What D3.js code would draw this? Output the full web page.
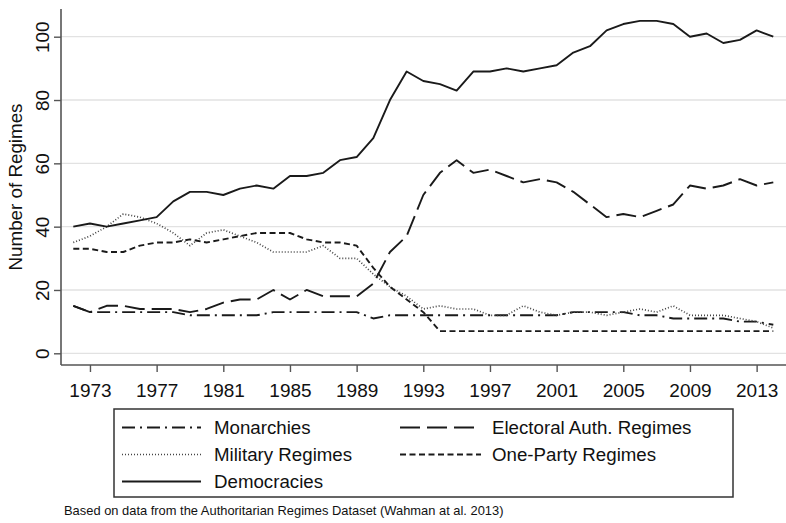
<!DOCTYPE html>
<html>
<head>
<meta charset="utf-8">
<script src="https://cdn.jsdelivr.net/npm/d3@7"></script>
<style>
  html, body { margin: 0; padding: 0; background: #fff; }
  svg { display: block; }
  text { font-family: "Liberation Sans", Arial, Helvetica, sans-serif; fill: #111; }
</style>
</head>
<body>
<svg id="chart" width="786" height="523"></svg>
<script>
// Regime counts per year, 1972–2014
const years = d3.range(1972, 2015);

const democracies = [40,41,40,41,42,43,48,51,51,50,
                     52,53,52,56,56,57,61,62,68,80,
                     89,86,85,83,89,89,90,89,90,91,
                     95,97,102,104,105,105,104,100,101,98,
                     99,102,100];
const electoralAuth = [15,13,15,15,14,14,14,13,14,16,
                       17,17,20,17,20,18,18,18,22,32,
                       37,50,57,61,57,58,56,54,55,54,
                       51,47,43,44,43,45,47,53,52,53,
                       55,53,54];
const military = [35,37,40,44,43,41,38,34,38,39,
                  37,35,32,32,32,34,30,30,25,21,
                  18,14,15,14,14,12,12,15,13,12,
                  13,13,12,13,14,13,15,12,12,12,
                  11,10,8];
const monarchies = [15,13,13,13,13,13,13,12,12,12,
                    12,12,13,13,13,13,13,13,11,12,
                    12,12,12,12,12,12,12,12,12,12,
                    13,13,13,13,12,12,11,11,11,11,
                    10,10,9];
const oneParty = [33,33,32,32,34,35,35,36,35,36,
                  37,38,38,38,36,35,35,34,27,21,
                  17,13,7,7,7,7,7,7,7,7,
                  7,7,7,7,7,7,7,7,7,7,
                  7,7,7];

const xTicks = [1973,1977,1981,1985,1989,1993,1997,2001,2005,2009,2013];
const yTicks = [0,20,40,60,80,100];

const seriesNames = ["Monarchies","Electoral Auth. Regimes","Military Regimes","One-Party Regimes","Democracies"];
const seriesValues = [monarchies, electoralAuth, military, oneParty, democracies];
const seriesDash = ["13,5,2,5", "20,7", "1,2", "6,3.5", null];
const seriesColor = ["#1a1a1a","#1a1a1a","#444","#1a1a1a","#1a1a1a"];
const seriesWidth = [1.9, 1.9, 1.7, 1.9, 1.9];

const svg = d3.select("#chart");

// Plot frame
const plotLeft = 61, plotRight = 786, plotTop = 9, plotBottom = 365;

const x = d3.scaleLinear().domain([1972, 2014]).range([73.3, 773.3]);
const y = d3.scaleLinear().domain([0, 100]).range([353.3, 36.7]);

// Horizontal gridlines
svg.append("g")
  .selectAll("line")
  .data(yTicks)
  .join("line")
  .attr("x1", plotLeft).attr("x2", plotRight)
  .attr("y1", d => y(d)).attr("y2", d => y(d))
  .attr("stroke", "#e2e2e2")
  .attr("stroke-width", 1.3);

// Y axis
const yAxis = svg.append("g")
  .attr("transform", `translate(${plotLeft},0)`)
  .call(d3.axisLeft(y).tickValues(yTicks).tickSize(7).tickSizeOuter(0).tickPadding(0));
yAxis.select(".domain").remove();
yAxis.selectAll(".tick line").attr("stroke", "#555").attr("stroke-width", 1.4);
yAxis.selectAll(".tick text")
  .attr("x", null).attr("dy", null)
  .attr("text-anchor", "middle")
  .attr("transform", "translate(-12.5,0) rotate(-90)")
  .style("font-size", "19px")
  .style("font-family", "'Liberation Sans', Arial, sans-serif")
  .attr("fill", "#111");
svg.append("line")
  .attr("x1", plotLeft).attr("x2", plotLeft)
  .attr("y1", plotTop).attr("y2", plotBottom)
  .attr("stroke", "#555").attr("stroke-width", 1.6);

// X axis
const xAxis = svg.append("g")
  .attr("transform", `translate(0,${plotBottom})`)
  .call(d3.axisBottom(x).tickValues(xTicks).tickFormat(d3.format("d")).tickSize(7).tickSizeOuter(0).tickPadding(4));
xAxis.select(".domain").remove();
xAxis.selectAll(".tick line").attr("stroke", "#555").attr("stroke-width", 1.4);
xAxis.selectAll(".tick text")
  .attr("dy", null).attr("y", 32)
  .style("font-size", "19px")
  .style("font-family", "'Liberation Sans', Arial, sans-serif")
  .attr("fill", "#111");
svg.append("line")
  .attr("x1", plotLeft).attr("x2", plotRight)
  .attr("y1", plotBottom).attr("y2", plotBottom)
  .attr("stroke", "#555").attr("stroke-width", 1.6);

// Y axis title
svg.append("text")
  .attr("transform", `translate(22,${(plotTop + plotBottom) / 2}) rotate(-90)`)
  .attr("text-anchor", "middle")
  .style("font-size", "18.8px")
  .text("Number of Regimes");

// Series lines
const line = d3.line()
  .x((d, i) => x(years[i]))
  .y(d => y(d));

svg.append("g")
  .selectAll("path")
  .data(seriesValues)
  .join("path")
  .attr("d", d => line(d))
  .attr("fill", "none")
  .attr("stroke", (d, i) => seriesColor[i])
  .attr("stroke-width", (d, i) => seriesWidth[i])
  .attr("stroke-dasharray", (d, i) => seriesDash[i])
  .attr("stroke-linejoin", "round");

// Legend
const legend = svg.append("g");
legend.append("rect")
  .attr("x", 114).attr("y", 409)
  .attr("width", 619).attr("height", 88)
  .attr("fill", "#fff")
  .attr("stroke", "#333").attr("stroke-width", 1.5);

const legendSlots = [
  {col: 0, row: 0}, {col: 1, row: 0},
  {col: 0, row: 1}, {col: 1, row: 1},
  {col: 0, row: 2}
];
const colKeyX = [[122, 201], [400, 481]];
const colTextX = [214, 492];
const rowBase = [434, 461, 488];

seriesNames.forEach((name, i) => {
  const s = legendSlots[i];
  const ky = rowBase[s.row] - 6.5;
  legend.append("line")
    .attr("x1", colKeyX[s.col][0]).attr("x2", colKeyX[s.col][1])
    .attr("y1", ky).attr("y2", ky)
    .attr("stroke", seriesColor[i])
    .attr("stroke-width", seriesWidth[i])
    .attr("stroke-dasharray", seriesDash[i]);
  legend.append("text")
    .attr("x", colTextX[s.col]).attr("y", rowBase[s.row])
    .style("font-size", "18.7px")
    .text(name);
});

// Source note
svg.append("text")
  .attr("x", 64).attr("y", 515)
  .style("font-size", "12.9px")
  .attr("fill", "#222")
  .text("Based on data from the Authoritarian Regimes Dataset (Wahman at al. 2013)");
</script>
</body>
</html>
